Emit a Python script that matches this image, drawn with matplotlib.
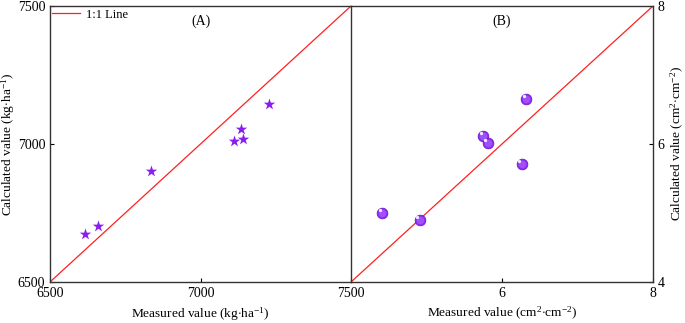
import matplotlib
matplotlib.use("Agg")
import matplotlib.pyplot as plt

plt.rcParams['font.family'] = ['Liberation Serif', 'DejaVu Serif']
plt.rcParams['mathtext.fontset'] = 'custom'
plt.rcParams['mathtext.rm'] = 'Liberation Serif'
plt.rcParams['mathtext.it'] = 'Liberation Serif:italic'
plt.rcParams['font.size'] = 10

# Panel A: yield (kg·ha-1)
yield_measured = [6617, 6658, 6837, 7112, 7135, 7141, 7226]
yield_calculated = [6674, 6702, 6903, 7012, 7053, 7019, 7145]
yield_ticks = [6500, 7000, 7500]

# Panel B: (cm2·cm-2)
lai_measured = [4.41, 4.91, 5.75, 5.81, 6.26, 6.32]
lai_calculated = [5.00, 4.90, 6.12, 6.02, 5.71, 6.65]
lai_ticks = [4, 6, 8]

fig = plt.figure(figsize=(6.85, 3.23), dpi=100)
axA = fig.add_axes([50/685, 1-282/323, 301/685, 276/323])
axB = fig.add_axes([351/685, 1-282/323, 302/685, 276/323])

line_red = '#ff2020'
lab_fs = 9.6

# Panel A
axA.plot([yield_ticks[0], yield_ticks[-1]], [yield_ticks[0], yield_ticks[-1]],
         color=line_red, lw=0.9, label='1:1 Line')
axA.scatter(yield_measured, yield_calculated, marker='*', s=75, color='#8a1cf0', zorder=3, linewidths=0)
axA.set_xlim(6500, 7500)
axA.set_ylim(6500, 7500)
axA.set_xticks(yield_ticks)
axA.set_yticks(yield_ticks)
axA.tick_params(direction='in', length=3, labelsize=10)
axA.set_xlabel('Measured value (kg$\\cdot$ha$^{-1}$)', fontsize=lab_fs, labelpad=4)
axA.set_ylabel('Calculated value (kg$\\cdot$ha$^{-1}$)', fontsize=lab_fs)
axA.yaxis.set_label_coords(-0.108, 0.5)
axA.text(0.5, 0.946, '(A)', transform=axA.transAxes, ha='center', va='center', fontsize=10)
axA.legend(loc='upper left', frameon=False, fontsize=9, handlelength=2.2,
           borderaxespad=0.1, borderpad=0.1, handletextpad=0.45)
axA.spines['right'].set_visible(False)

# Panel B
axB.plot([lai_ticks[0], lai_ticks[-1]], [lai_ticks[0], lai_ticks[-1]], color=line_red, lw=0.9)
axB.scatter(lai_measured, lai_calculated, marker='o', s=60, color='#8f2bf0', zorder=3,
            edgecolors='#6a10c8', linewidths=0.5)
axB.scatter(lai_measured, lai_calculated, marker='o', s=30, color='#a050f8', zorder=4,
            linewidths=0)
for x, y in zip(lai_measured, lai_calculated):
    axB.plot(x - 0.03, y + 0.04, 'o', ms=2.4, color='#f2eaff', mec='none', zorder=5)
axB.set_xlim(4, 8)
axB.set_ylim(4, 8)
axB.set_xticks([6, 8])
axB.set_yticks(lai_ticks)
axB.yaxis.tick_right()
axB.yaxis.set_label_position('right')
axB.tick_params(direction='in', length=3, labelsize=10)
axB.set_xlabel('Measured value (cm$^{2}$$\\cdot$cm$^{-2}$)', fontsize=lab_fs, labelpad=4)
axB.set_ylabel('Calculated value (cm$^{2}$$\\cdot$cm$^{-2}$)', fontsize=lab_fs)
axB.yaxis.set_label_coords(1.054, 0.5)
axB.text(0.5, 0.946, '(B)', transform=axB.transAxes, ha='center', va='center', fontsize=10)

for ax in (axA, axB):
    for s in ax.spines.values():
        s.set_color('#333333')
        s.set_linewidth(1.0)

fig.savefig('out.png', dpi=100)
